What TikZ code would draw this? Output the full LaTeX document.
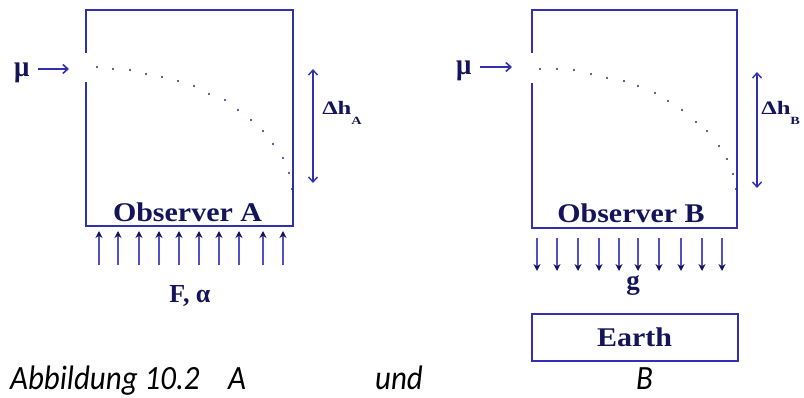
\documentclass[tikz,border=0pt]{standalone}
\usepackage{fontspec}
\setmainfont{Liberation Serif}
\newfontfamily\capfont{Carlito}
\usetikzlibrary{arrows.meta}
\definecolor{lineblue}{RGB}{48,48,176}
\definecolor{arrblue}{RGB}{80,80,200}
\definecolor{navy}{RGB}{20,20,90}
\definecolor{dotblue}{RGB}{40,40,130}
\tikzset{
  wall/.style={draw=lineblue,line width=2pt},
  lbl/.style={inner sep=0pt,text=navy,font=\bfseries},
  dimarrow/.style={draw=lineblue,line width=1.4pt,{Straight Barb[length=5pt,width=9pt]}-{Straight Barb[length=5pt,width=9pt]}},
  muarrow/.style={draw=lineblue,line width=1.6pt,-{Straight Barb[length=5pt,width=9pt]}},
  forcearrow/.style={draw=arrblue,line width=1.6pt,-{Stealth[length=7pt,width=7pt,color=navy]}},
  trajdot/.style={fill=dotblue,circle,inner sep=0pt,minimum size=2.2pt},
  mulbl/.style={lbl,anchor=base west,font=\bfseries\fontsize{27}{27}\selectfont,yscale=1.1},
  dhlbl/.style={lbl,anchor=base west,font=\bfseries\fontsize{19}{19}\selectfont,xscale=1.3},
  caption/.style={inner sep=0pt,font=\capfont\itshape\fontsize{34}{34}\selectfont,xscale=0.91}
}
\begin{document}
\begin{tikzpicture}[x=1pt,y=-1pt]
\useasboundingbox (0,0) rectangle (804,398);
% ---------- Panel A ----------
\coordinate (A1) at (86,53);
\coordinate (A2) at (86,10);
\coordinate (A3) at (293,10);
\coordinate (A4) at (293,226);
\coordinate (A5) at (86,226);
\coordinate (A6) at (86,82);
\draw[wall,line join=miter] (A1) -- (A2) -- (A3) -- (A4) -- (A5) -- (A6);
\node[mulbl] (muA) at (14,77) {μ};
\coordinate (muAs) at (38,69);
\coordinate (muAe) at (69,69);
\draw[muarrow] (muAs) -- (muAe);
\foreach \i/\p in {1/{97,67},2/{113,69},3/{130,70},4/{146,74},5/{162,77},6/{178,81},7/{194,86},8/{209,94},9/{225,100},10/{238,110},11/{251,120},12/{263,131},13/{273,144},14/{283,158},15/{289,173},16/{292,189}}
  \node[trajdot] (dA\i) at (\p) {};
\coordinate (hAt) at (313,69);
\coordinate (hAb) at (313,183);
\draw[dimarrow] (hAt) -- (hAb);
\node[dhlbl] (dhA) at (322,115) {Δh\raisebox{-10pt}{\fontsize{11}{11}\selectfont A}};
\node[lbl,anchor=base,font=\bfseries\fontsize{27}{27}\selectfont,xscale=1.11] (obsA) at (187.5,222) {Observer A};
\foreach \i/\x in {1/99,2/118,3/139,4/159,5/179,6/199,7/219,8/239,9/263,10/283}{
  \coordinate (uAb\i) at (\x,265);
  \coordinate (uAt\i) at (\x,231);
  \draw[forcearrow] (uAb\i) -- (uAt\i);
}
\node[lbl,anchor=base,font=\bfseries\fontsize{26}{26}\selectfont] (FA) at (190,303) {F, α};
% ---------- Panel B ----------
\coordinate (B1) at (532,53);
\coordinate (B2) at (532,10);
\coordinate (B3) at (737,10);
\coordinate (B4) at (737,228);
\coordinate (B5) at (532,228);
\coordinate (B6) at (532,83);
\draw[wall,line join=miter] (B1) -- (B2) -- (B3) -- (B4) -- (B5) -- (B6);
\node[mulbl] (muB) at (456,75) {μ};
\coordinate (muBs) at (480,67);
\coordinate (muBe) at (512,67);
\draw[muarrow] (muBs) -- (muBe);
\foreach \i/\p in {1/{540,69},2/{557,69},3/{574,70},4/{591,74},5/{607,78},6/{624,81},7/{638,86},8/{655,93},9/{668,101},10/{682,110},11/{696,122},12/{707,131},13/{719,146},14/{727,159},15/{733,174},16/{736,189}}
  \node[trajdot] (dB\i) at (\p) {};
\coordinate (hBt) at (757,72);
\coordinate (hBb) at (757,188);
\draw[dimarrow] (hBt) -- (hBb);
\node[dhlbl] (dhB) at (761,115) {Δh\raisebox{-10pt}{\fontsize{11}{11}\selectfont B}};
\node[lbl,anchor=base,font=\bfseries\fontsize{27}{27}\selectfont,xscale=1.11] (obsB) at (631,223) {Observer B};
\foreach \i/\x in {1/537,2/557,3/578,4/599,5/619,6/638,7/659,8/681,9/702,10/722}{
  \coordinate (dBt\i) at (\x,238);
  \coordinate (dBb\i) at (\x,271);
  \draw[forcearrow] (dBt\i) -- (dBb\i);
}
\node[lbl,anchor=base,font=\bfseries\fontsize{27}{27}\selectfont] (gB) at (633,290) {g};
\node[draw=lineblue,line width=2pt,minimum width=206pt,minimum height=47pt,inner sep=0pt] (earth) at (635,337.5) {};
\node[lbl,anchor=base,font=\bfseries\fontsize{27}{27}\selectfont,xscale=1.11] (earthtxt) at (634.5,347) {Earth};
% ---------- Caption ----------
\node[caption,anchor=base west] (cap1) at (10,389) {Abbildung 10.2};
\node[caption,anchor=base west] (cap2) at (228,389) {A};
\node[caption,anchor=base west] (cap3) at (375,389) {und};
\node[caption,anchor=base west] (cap4) at (636,389) {B};
\end{tikzpicture}
\end{document}
